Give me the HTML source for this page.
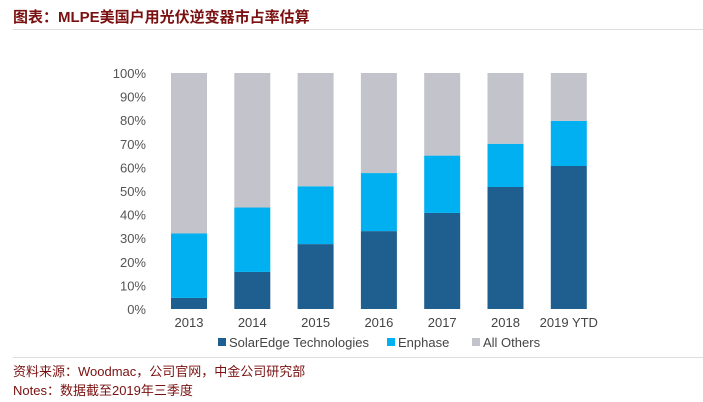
<!DOCTYPE html>
<html><head><meta charset="utf-8"><style>
body{margin:0;background:#fff;width:703px;height:402px;overflow:hidden;font-family:"Liberation Sans","Noto Sans CJK SC",sans-serif;}
.t{position:absolute;left:13px;top:6px;font-size:15px;font-weight:bold;color:#7a1010;}
.f{position:absolute;left:13px;font-size:13px;color:#7a1010;}
.hr{position:absolute;left:13px;right:0;height:1px;background:#ddd;}
</style></head><body>
<div class="t">图表：MLPE美国户用光伏逆变器市占率估算</div>
<div class="hr" style="top:29px"></div>
<svg id="c" width="703" height="402" style="position:absolute;left:0;top:0"></svg>
<div class="hr" style="top:357px"></div>
<div class="f" style="top:361px">资料来源：Woodmac，公司官网，中金公司研究部</div>
<div class="f" style="top:380px">Notes：数据截至2019年三季度</div>
<script>
const categories=["2013","2014","2015","2016","2017","2018","2019 YTD"];
const solarEdge=[4.7,15.7,27.5,33,40.7,51.7,60.6];
const enphase=[27.3,27.3,24.5,24.6,24.3,18.3,19.1];
const yTicks=[0,10,20,30,40,50,60,70,80,90,100];
const NS="http://www.w3.org/2000/svg";
const svg=document.getElementById('c');
const y=v=>309-v*2.36;
const x=i=>189+i*63.3;
const bw=36;
function mk(t,a){const e=document.createElementNS(NS,t);for(const k in a)e.setAttribute(k,a[k]);svg.appendChild(e);return e;}
yTicks.forEach(v=>{const e=mk('text',{x:146,y:y(v)+5,'text-anchor':'end','font-size':13,fill:'#555'});e.textContent=v+'%';

});
categories.forEach((c,i)=>{
 const se=solarEdge[i],en=enphase[i];
 const segs=[[0,se,'#1f5f8f','solaredge'],[se,se+en,'#00b0f0','enphase'],[se+en,100,'#c3c3cb','all-others']];
 segs.forEach(s=>{const r=mk('rect',{x:x(i)-bw/2,y:y(s[1]),width:bw,height:y(s[0])-y(s[1]),fill:s[2]});
 
 });
 const t=mk('text',{x:x(i),y:327,'text-anchor':'middle','font-size':13,fill:'#444'});t.textContent=c;
 
 
});
const leg=[["SolarEdge Technologies",'#1f5f8f',218],["Enphase",'#00b0f0',387],["All Others",'#c3c3cb',472]];
leg.forEach(l=>{const r=mk('rect',{x:l[2],y:338,width:8,height:8,fill:l[1]});


const t=mk('text',{x:l[2]+11,y:347,'font-size':13,fill:'#444'});t.textContent=l[0];

});
</script>
</body></html>
